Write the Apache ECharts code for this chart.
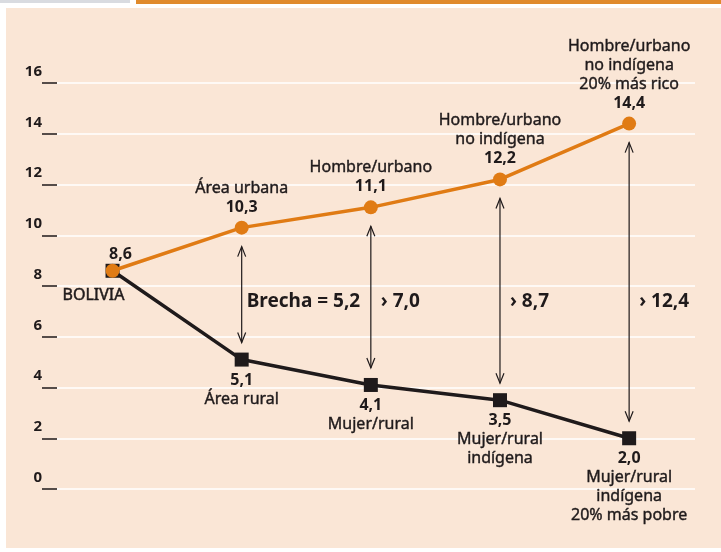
<!DOCTYPE html>
<html>
<head>
<meta charset="utf-8">
<script src="https://cdn.jsdelivr.net/npm/echarts@6/dist/echarts.min.js"></script>
<style>
  html, body { margin: 0; padding: 0; background: #ffffff; }
  #chart { width: 721px; height: 552px; }
</style>
</head>
<body>
<div id="chart"></div>
<script>
// datos
const topNames = ['BOLIVIA', 'Área urbana', 'Hombre/urbano', 'Hombre/urbano\nno indígena', 'Hombre/urbano\nno indígena\n20% más rico'];
const bottomNames = ['BOLIVIA', 'Área rural', 'Mujer/rural', 'Mujer/rural\nindígena', 'Mujer/rural\nindígena\n20% más pobre'];
const topValues = [8.6, 10.3, 11.1, 12.2, 14.4];
const bottomValues = [8.6, 5.1, 4.1, 3.5, 2.0];
const brechas = [5.2, 7.0, 8.7, 12.4];
const yTicks = [0, 2, 4, 6, 8, 10, 12, 14, 16];

const FONT = '"Noto Sans", sans-serif';
const INK = '#1f1a1b';
const ORANGE = '#e07b14';
const PEACH = '#fae6d6';
const gapLabelLevel = 7.4;

let chartDom = document.getElementById('chart');
let myChart = echarts.init(chartDom);

function fmt(v) {
  return v.toFixed(1).replace('.', ',');
}

function richLines(text) {
  return text.split('\n').map(t => `{n|${t}}`).join('\n');
}

// el trazo fino del borde engrosa un poco el texto normal
const richStyle = {
  n: { fontFamily: FONT, fontSize: 16, lineHeight: 19, color: INK, textBorderColor: INK, textBorderWidth: 0.4 },
  v: { fontFamily: FONT, fontSize: 16, lineHeight: 19, color: INK, fontWeight: 'bold' }
};

const topData = topValues.map((v, i) => [i, v]);
const bottomData = bottomValues.map((v, i) => [i, v]);
const gapData = brechas.map((g, i) => [i + 1, topValues[i + 1], bottomValues[i + 1], g]);

function renderGap(params, api) {
  const x = api.value(0);
  const p1 = api.coord([x, api.value(1)]);
  const p2 = api.coord([x, api.value(2)]);
  const lp = api.coord([x, gapLabelLevel]);
  const px = p1[0];
  const y1 = p1[1] + 19;
  const y2 = p2[1] - 17;
  const style = { stroke: INK, lineWidth: 1.2, fill: null };
  const first = params.dataIndex === 0;
  const text = first ? 'Brecha = ' + fmt(api.value(3)) : '› ' + fmt(api.value(3));
  return {
    type: 'group',
    children: [
      { type: 'line', shape: { x1: px, y1: y1, x2: px, y2: y2 }, style: style },
      { type: 'polyline', shape: { points: [[px - 4, y1 + 10], [px, y1], [px + 4, y1 + 10]] }, style: style },
      { type: 'polyline', shape: { points: [[px - 4, y2 - 10], [px, y2], [px + 4, y2 - 10]] }, style: style },
      {
        type: 'text',
        x: px + (first ? 5 : 10),
        y: lp[1],
        style: {
          text: text,
          fill: INK,
          font: 'bold 19px ' + FONT,
          verticalAlign: 'middle'
        }
      }
    ]
  };
}

const option = {
  backgroundColor: '#ffffff',
  animation: false,
  graphic: [
    { type: 'rect', z: -10, shape: { x: 6, y: 8, width: 715, height: 540 }, style: { fill: PEACH } },
    { type: 'rect', z: -10, shape: { x: 0, y: 0, width: 130, height: 3 }, style: { fill: '#d9dbe0' } },
    { type: 'rect', z: -10, shape: { x: 136, y: 0, width: 585, height: 4 }, style: { fill: '#e08a2c' } }
  ],
  grid: { left: 57, right: 26, top: 83, bottom: 63 },
  xAxis: {
    type: 'value',
    min: -0.43,
    max: 4.51,
    show: false
  },
  yAxis: {
    type: 'value',
    min: yTicks[0],
    max: yTicks[yTicks.length - 1],
    interval: 2,
    axisLine: { show: false, onZero: false },
    axisTick: { show: true, length: 15, lineStyle: { color: INK, width: 1.5 } },
    axisLabel: {
      margin: 15,
      verticalAlign: 'bottom',
      padding: [0, 0, 4, 0],
      color: INK,
      fontFamily: FONT,
      fontSize: 15,
      fontWeight: 'bold'
    },
    splitLine: { lineStyle: { color: '#ffffff', width: 1.5 } }
  },
  series: [
    {
      name: 'rural',
      type: 'line',
      z: 2,
      symbol: 'rect',
      symbolSize: 14,
      itemStyle: { color: INK },
      lineStyle: { color: INK, width: 3.5 },
      label: {
        show: true,
        position: 'bottom',
        distance: 4,
        rich: richStyle,
        formatter: p => p.dataIndex === 0
          ? `{b|${bottomNames[0]}}`
          : `{v|${fmt(p.value[1])}}\n` + richLines(bottomNames[p.dataIndex])
      },
      data: bottomData.map((d, i) => i === 0 ? {
        value: d,
        label: {
          offset: [-19, 0],
          distance: 10,
          rich: {
            b: {
              fontFamily: FONT, fontSize: 16, color: INK,
              textBorderColor: INK, textBorderWidth: 0.5,
              backgroundColor: PEACH, padding: [0, 3]
            }
          }
        }
      } : d)
    },
    {
      name: 'urbano',
      type: 'line',
      z: 3,
      symbol: 'circle',
      symbolSize: 14,
      itemStyle: { color: ORANGE },
      lineStyle: { color: ORANGE, width: 3.5 },
      label: {
        show: true,
        position: 'top',
        distance: 4,
        rich: richStyle,
        formatter: p => p.dataIndex === 0
          ? `{v|${fmt(p.value[1])}}`
          : richLines(topNames[p.dataIndex]) + `\n{v|${fmt(p.value[1])}}`
      },
      data: topData.map((d, i) => i === 0 ? {
        value: d,
        label: { offset: [8, 2], distance: 2 }
      } : d)
    },
    {
      name: 'brecha',
      type: 'custom',
      z: 1,
      renderItem: renderGap,
      encode: { x: 0, y: [1, 2] },
      data: gapData
    }
  ]
};

myChart.setOption(option);
</script>
</body>
</html>
